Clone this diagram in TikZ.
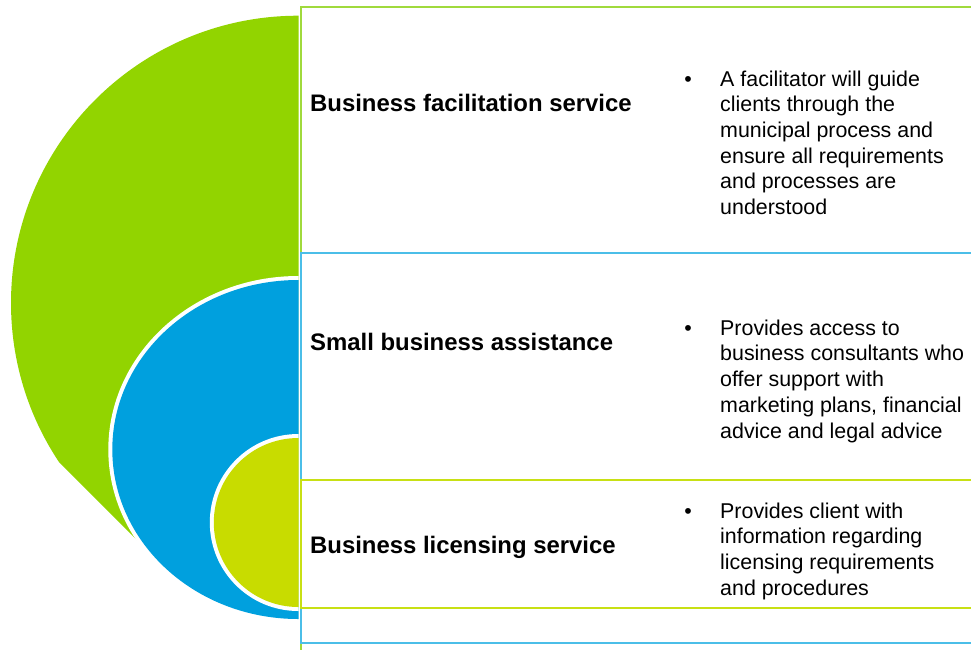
\documentclass[tikz,border=0pt]{standalone}
\usepackage{fontspec}
\setmainfont{Liberation Sans}
\definecolor{cgreen}{RGB}{146,212,0}
\definecolor{cblue}{RGB}{0,160,222}
\definecolor{cyel}{RGB}{200,220,0}
\definecolor{rgreen}{RGB}{160,218,60}
\definecolor{rblue}{RGB}{75,190,232}
\definecolor{ryel}{RGB}{200,224,20}
\begin{document}
\begin{tikzpicture}[x=1pt,y=-1pt,
  title/.style={anchor=base west, inner sep=0, font=\fontsize{23.9}{28}\selectfont\bfseries},
  desc/.style={anchor=north west, inner sep=0, align=left, font=\fontsize{21.4}{25.7}\selectfont},
  bul/.style={anchor=base, inner sep=0, font=\fontsize{21.4}{25.7}\selectfont},
  frame/.style={line width=2pt, fill=white}]
\useasboundingbox (0,0) rectangle (971,649);
\clip (0,0) rectangle (971,649);
% frames
\draw[frame, draw=rgreen] (301,6.5) rectangle (990,660);
\draw[frame, draw=rblue] (301,253) rectangle (990,643);
\draw[frame, draw=ryel] (301,480) rectangle (990,608);
% green segment
\begin{scope}
\clip (-10,-10) -- (298.5,-10) -- (298.5,701.5) -- (-10,393) -- cycle;
\fill[cgreen] (298.3,303) circle (287.3);
\end{scope}
% blue and yellow half discs
\begin{scope}
\clip (-10,-10) rectangle (298.5,700);
\fill[white] (298.3,449.5) ellipse [x radius=190, y radius=173.5];
\fill[cblue] (298.3,449.5) ellipse [x radius=186, y radius=169.5];
\fill[white] (298.3,522.5) circle (88.5);
\fill[cyel] (298.3,522.5) circle (84.5);
\end{scope}
% titles
\node[title] (t1) at (310,111.6) {Business facilitation service};
\node[title] (t2) at (310,350.6) {Small business assistance};
\node[title] (t3) at (310,553.6) {Business licensing service};
% bullets
\node[bul] (b1) at (688,86) {•};
\node[bul] (b2) at (688,335) {•};
\node[bul] (b3) at (688,518) {•};
\node[desc] (d1) at (720,70.4) {A facilitator will guide\\clients through the\\municipal process and\\ensure all requirements\\and processes are\\understood};
\node[desc] (d2) at (720,319.5) {Provides access to\\business consultants who\\offer support with\\marketing plans, financial\\advice and legal advice};
\node[desc] (d3) at (720,502.5) {Provides client with\\information regarding\\licensing requirements\\and procedures};
\end{tikzpicture}
\end{document}
